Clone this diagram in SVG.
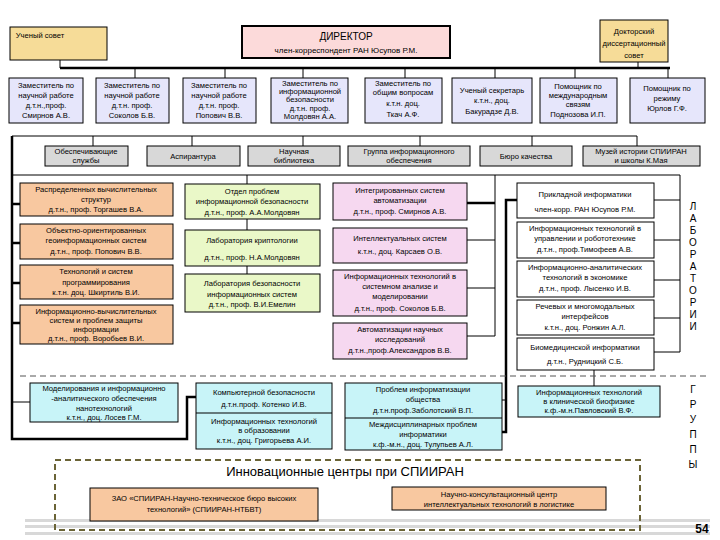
<svg xmlns="http://www.w3.org/2000/svg" width="720" height="540" viewBox="0 0 720 540">
<style>
text{font-family:"Liberation Sans",Arial,sans-serif;font-size:7.6px;fill:#000;text-anchor:middle}
.b rect{stroke:#000;stroke-width:1}
.lav{fill:#e6e6fb}.gr{fill:#d8d8d8}.or{fill:#f8c8a0}.gn{fill:#eaf8c8}.pk{fill:#f6d8f0}.wh{fill:#fff}.cy{fill:#c8f4f8}.tan{fill:#f6dc98}
.l{stroke:#000;stroke-width:1;fill:none}.t{stroke:#000;stroke-width:2.5;fill:none}
.side{font-size:10px}
</style>
<rect width="720" height="540" fill="#fff"/>
<g fill="#d8d8d8"><rect x="25" y="519" width="685" height="3"/><rect x="25" y="525" width="685" height="3"/><rect x="25" y="532" width="685" height="3"/></g>
<g id="connectors">
<path class="t" d="M60 68H670"/>
<path class="l" d="M60 60V68M638 62V68M135 68V78M225 68V78M303 68V78M405 68V78M495 68V78M575 68V78M668 68V78"/>
<path class="l" d="M12 136H637M93 136V146M192 136V146M303 136V146M420 136V146M532 136V146M637 136V146"/>
<path class="t" d="M12 136V439H187V397H196"/>
<path class="l" d="M12 175H680V352M247 175V184M247 219V230M247 266V274"/>
<path class="t" d="M12 204H20M12 243H20M12 283H20M12 323H20"/>
<path class="l" d="M12 402H30"/>
<path class="t" d="M467 203H495"/>
<path class="l" d="M495 175V336M467 240H495M467 288H495M467 336H495"/>
<path class="l" d="M654 200H680M654 240H680M654 280H680M654 318H680M654 352H680"/>
<path class="t" d="M517 200H506V432H497"/>
<path class="l" d="M502 400H506M594 370V386"/>
<path d="M20 376H710" stroke="#555" stroke-width="1" stroke-dasharray="6,4"/>
</g>
<g id="uchsovet" class="b"><rect class="tan" x="10" y="27" width="97" height="33"/><text x="40" y="38">Ученый совет</text></g>
<g id="director" class="b"><rect x="242" y="26" width="208" height="32" fill="#fcdada" style="stroke-width:2"/><text x="346" y="40" style="font-size:10px">ДИРЕКТОР</text><text x="346" y="53" style="font-size:8px">член-корреспондент РАН Юсупов Р.М.</text></g>
<g id="doksovet" class="b"><rect class="tan" x="600" y="20" width="68" height="42"/><text x="634" y="34">Докторский</text><text x="634" y="46">диссертационный</text><text x="634" y="58">совет</text></g>
<g id="dep1" class="b"><rect class="lav" x="9" y="78" width="74" height="45"/><text x="46" y="88">Заместитель по</text><text x="46" y="98">научной работе</text><text x="46" y="108">д.т.н.,проф.</text><text x="46" y="118">Смирнов А.В.</text></g>
<g id="dep2" class="b"><rect class="lav" x="96" y="78" width="73" height="45"/><text x="132" y="88">Заместитель по</text><text x="132" y="98">научной работе</text><text x="132" y="108">д.т.н. проф.</text><text x="132" y="118">Соколов Б.В.</text></g>
<g id="dep3" class="b"><rect class="lav" x="183" y="78" width="73" height="45"/><text x="219" y="88">Заместитель по</text><text x="219" y="98">научной работе</text><text x="219" y="108">д.т.н. проф.</text><text x="219" y="118">Попович В.В.</text></g>
<g id="dep4" class="b"><rect class="lav" x="271" y="78" width="77" height="45"/><text x="310" y="86">Заместитель по</text><text x="310" y="94">информационной</text><text x="310" y="102">безопасности</text><text x="310" y="111">д.т.н. проф.</text><text x="310" y="119">Молдовян А.А.</text></g>
<g id="dep5" class="b"><rect class="lav" x="365" y="78" width="77" height="45"/><text x="403" y="86">Заместитель по</text><text x="403" y="95">общим вопросам</text><text x="403" y="106">к.т.н. доц.</text><text x="403" y="117">Ткач А.Ф.</text></g>
<g id="sec" class="b"><rect class="lav" x="452" y="78" width="80" height="45"/><text x="492" y="93">Ученый секретарь</text><text x="492" y="103">к.т.н., доц.</text><text x="492" y="114">Бакурадзе Д.В.</text></g>
<g id="pom1" class="b"><rect class="lav" x="540" y="78" width="77" height="45"/><text x="578" y="89">Помощник по</text><text x="578" y="98">международным</text><text x="578" y="107">связям</text><text x="578" y="117">Поднозова И.П.</text></g>
<g id="pom2" class="b"><rect class="lav" x="630" y="78" width="75" height="45"/><text x="667" y="91">Помощник по</text><text x="667" y="101">режиму</text><text x="667" y="111">Юрлов Г.Ф.</text></g>
<g id="svc" class="b"><rect class="gr" x="45" y="146" width="83" height="20"/><text x="86" y="154">Обеспечивающие</text><text x="86" y="163">службы</text></g>
<g id="asp" class="b"><rect class="gr" x="147" y="146" width="93" height="20"/><text x="193" y="159">Аспирантура</text></g>
<g id="lib" class="b"><rect class="gr" x="248" y="146" width="92" height="20"/><text x="294" y="154">Научная</text><text x="294" y="163">библиотека</text></g>
<g id="grp" class="b"><rect class="gr" x="348" y="146" width="122" height="20"/><text x="409" y="154">Группа информационного</text><text x="409" y="163">обеспечения</text></g>
<g id="bur" class="b"><rect class="gr" x="480" y="146" width="92" height="20"/><text x="526" y="159">Бюро качества</text></g>
<g id="mus" class="b"><rect class="gr" x="583" y="146" width="117" height="20"/><text x="641" y="154">Музей истории СПИИРАН</text><text x="641" y="163">и школы К.Мая</text></g>
<g id="o1" class="b"><rect class="or" x="20" y="183" width="153" height="33"/><text x="96" y="192">Распределенных вычислительных</text><text x="96" y="202">структур</text><text x="96" y="212">д.т.н., проф. Торгашев В.А.</text></g>
<g id="o2" class="b"><rect class="or" x="20" y="224" width="153" height="35"/><text x="96" y="233">Объектно-ориентированных</text><text x="96" y="243">геоинформационных систем</text><text x="96" y="254">д.т.н., проф. Попович В.В.</text></g>
<g id="o3" class="b"><rect class="or" x="20" y="265" width="153" height="34"/><text x="96" y="274">Технологий и систем</text><text x="96" y="285">программирования</text><text x="96" y="295">к.т.н. доц. Шкиртиль В.И.</text></g>
<g id="o4" class="b"><rect class="or" x="20" y="305" width="153" height="39"/><text x="96" y="314">Информационно-вычислительных</text><text x="96" y="323">систем и проблем защиты</text><text x="96" y="332">информации</text><text x="96" y="341">д.т.н., проф. Воробьев В.И.</text></g>
<g id="g1" class="b"><rect class="gn" x="185" y="184" width="135" height="35"/><text x="252" y="194">Отдел проблем</text><text x="252" y="204">информационной безопасности</text><text x="252" y="215">д.т.н., проф. А.А.Молдовян</text></g>
<g id="g2" class="b"><rect class="gn" x="185" y="230" width="135" height="36"/><text x="252" y="243">Лаборатория криптологии</text><text x="252" y="260">д.т.н., проф.  Н.А.Молдовян</text></g>
<g id="g3" class="b"><rect class="gn" x="185" y="274" width="135" height="38"/><text x="252" y="286">Лаборатория безопасности</text><text x="252" y="297">информационных систем</text><text x="252" y="307">д.т.н., проф. В.И.Емелин</text></g>
<g id="p1" class="b"><rect class="pk" x="333" y="183" width="134" height="37"/><text x="400" y="193">Интегрированных систем</text><text x="400" y="203">автоматизации</text><text x="400" y="214">д.т.н., проф. Смирнов А.В.</text></g>
<g id="p2" class="b"><rect class="pk" x="333" y="228" width="134" height="35"/><text x="400" y="241">Интеллектуальных систем</text><text x="400" y="254">к.т.н., доц. Карсаев О.В.</text></g>
<g id="p3" class="b"><rect class="pk" x="333" y="270" width="134" height="46"/><text x="400" y="279">Информационных технологий в</text><text x="400" y="289">системном анализе и</text><text x="400" y="299">моделировании</text><text x="400" y="311">д.т.н., проф. Соколов Б.В.</text></g>
<g id="p4" class="b"><rect class="pk" x="333" y="323" width="134" height="36"/><text x="400" y="332">Автоматизации научных</text><text x="400" y="342">исследований</text><text x="400" y="353">д.т.н.,проф.Александров В.В.</text></g>
<g id="l1" class="b"><rect class="wh" x="517" y="183" width="137" height="35"/><text x="585" y="197">Прикладной информатики</text><text x="585" y="212">член-корр. РАН Юсупов Р.М.</text></g>
<g id="l2" class="b"><rect class="wh" x="517" y="222" width="137" height="36"/><text x="585" y="231">Информационных технологий в</text><text x="585" y="241">управлении и робототехнике</text><text x="585" y="252">д.т.н., проф.Тимофеев А.В.</text></g>
<g id="l3" class="b"><rect class="wh" x="517" y="261" width="137" height="36"/><text x="585" y="270">Информационно-аналитических</text><text x="585" y="280">технологий в экономике</text><text x="585" y="291">д.т.н., проф. Лысенко И.В.</text></g>
<g id="l4" class="b"><rect class="wh" x="517" y="300" width="137" height="35"/><text x="585" y="309">Речевых и многомодальных</text><text x="585" y="319">интерфейсов</text><text x="585" y="330">к.т.н., доц.  Ронжин А.Л.</text></g>
<g id="l5" class="b"><rect class="wh" x="517" y="338" width="137" height="32"/><text x="585" y="350">Биомедицинской информатики</text><text x="585" y="364">д.т.н.,  Рудницкий С.Б.</text></g>
<g id="lab" class="side"><text x="693" y="210" style="font-size:10px">Л</text><text x="693" y="222" style="font-size:10px">А</text><text x="693" y="234" style="font-size:10px">Б</text><text x="693" y="246" style="font-size:10px">О</text><text x="693" y="258" style="font-size:10px">Р</text><text x="693" y="270" style="font-size:10px">А</text><text x="693" y="282" style="font-size:10px">Т</text><text x="693" y="294" style="font-size:10px">О</text><text x="693" y="306" style="font-size:10px">Р</text><text x="693" y="318" style="font-size:10px">И</text><text x="693" y="330" style="font-size:10px">И</text></g>
<g id="c1" class="b"><rect class="cy" x="30" y="383" width="148" height="39"/><text x="104" y="391">Моделирования и информационно</text><text x="104" y="401">-аналитического обеспечения</text><text x="104" y="411">нанотехнологий</text><text x="104" y="420">к.т.н., доц. Лосев Г.М.</text></g>
<g id="c2" class="b"><rect class="cy" x="196" y="383" width="136" height="66"/><path class="l" d="M196 413H332"/><text x="264" y="395">Компьютерной безопасности</text><text x="264" y="407">д.т.н.проф. Котенко И.В.</text><text x="264" y="424">Информационных технологий</text><text x="264" y="433">в образовании</text><text x="264" y="443">к.т.н., доц. Григорьева А.И.</text></g>
<g id="c3" class="b"><rect class="cy" x="345" y="383" width="157" height="67"/><path class="l" d="M345 418H502"/><text x="423" y="392">Проблем информатизации</text><text x="423" y="402">общества</text><text x="423" y="413">д.т.н.проф.Заболотский В.П.</text><text x="423" y="427">Междисциплинарных проблем</text><text x="423" y="437">информатики</text><text x="423" y="447">к.ф.-м.н., доц. Тулупьев А.Л.</text></g>
<g id="c4" class="b"><rect class="cy" x="518" y="386" width="142" height="31"/><text x="589" y="395">Информационных технологий</text><text x="589" y="404">в клинической биофизике</text><text x="589" y="413">к.ф.-м.н.Павловский В.Ф.</text></g>
<g id="grp-label"><text x="693" y="393" style="font-size:10px">Г</text><text x="693" y="408" style="font-size:10px">Р</text><text x="693" y="423" style="font-size:10px">У</text><text x="693" y="438" style="font-size:10px">П</text><text x="693" y="453" style="font-size:10px">П</text><text x="693" y="468" style="font-size:10px">Ы</text></g>
<g id="innov"><rect x="55" y="460" width="585" height="70" fill="none" stroke="#6b6437" stroke-width="2" stroke-dasharray="6,4"/><text x="345" y="476" style="font-size:13px">Инновационные центры при СПИИРАН</text></g>
<g id="zao" class="b"><rect class="or" x="90" y="488" width="228" height="33"/><text x="204" y="501">ЗАО «СПИИРАН-Научно-техническое бюро высоких</text><text x="204" y="512">технологий» (СПИИРАН-НТБВТ)</text></g>
<g id="nkc" class="b"><rect class="or" x="392" y="487" width="214" height="23"/><text x="499" y="497">Научно-консультационный центр</text><text x="499" y="507">интеллектуальных технологий в логистике</text></g>
<text x="702" y="533" style="font-size:12px;font-weight:bold">54</text>
</svg>
